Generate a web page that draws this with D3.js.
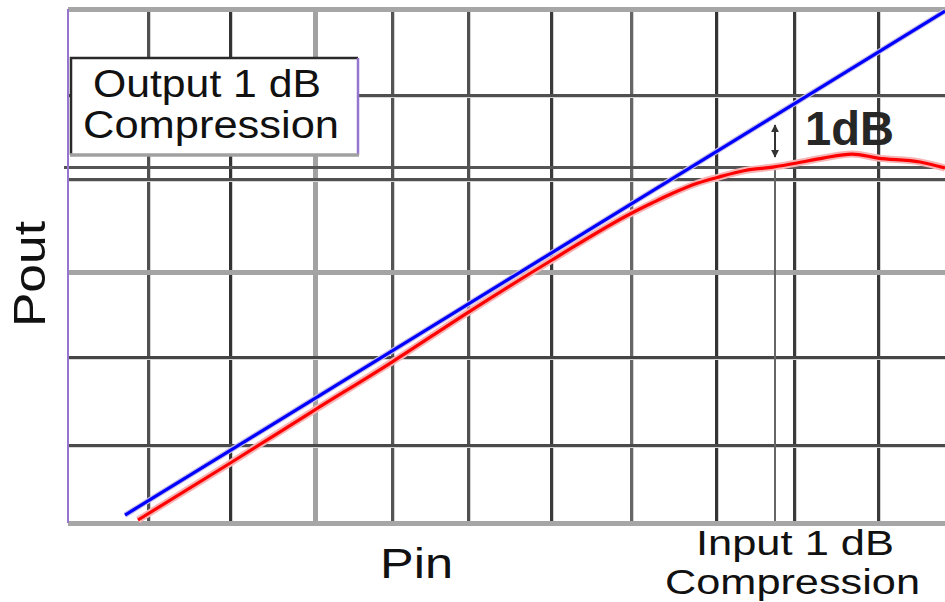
<!DOCTYPE html>
<html>
<head>
<meta charset="utf-8">
<script src="https://cdn.jsdelivr.net/npm/d3@7"></script>
<style>
  html, body { margin: 0; padding: 0; background: #ffffff; }
  svg { display: block; }
  text { font-family: "Liberation Sans", Arial, sans-serif; fill: #111; }
</style>
</head>
<body>
<svg id="chart" width="945" height="602"></svg>
<script>
// ---------------- DATA (in grid-division units) ----------------
const xDomain = [0, 10.814];            // Pin, grid divisions
const yDomain = [0, 6];                 // Pout, grid divisions
const xGridValues = [0.986, 1.998, 3.046, 3.995, 4.932, 5.956, 6.942, 7.990, 8.952, 9.988];
const yGridValues = [0.910, 1.938, 2.930, 4.015, 4.996];
const inputCompression = 8.718;         // Pin at 1 dB compression
const outputCompression = 4.155;        // Pout at 1 dB compression

// ideal linear response (blue)
const idealPin  = [0.703, 10.814];
const idealPout = [0.093, 5.976];

// measured response (red)
const measPin  = [0.863, 2.022, 3.021, 3.995, 4.920, 5.968, 6.954, 7.201, 7.448, 7.768, 8.002, 8.348, 8.693, 8.989, 9.310, 9.667, 9.988, 10.506, 10.814];
const measPout = [0.035, 0.712, 1.307, 1.879, 2.451, 3.070, 3.619, 3.735, 3.846, 3.969, 4.033, 4.115, 4.155, 4.202, 4.260, 4.307, 4.260, 4.214, 4.144];

// 1 dB arrow (from ideal down to measured)
const arrowTop = 4.646, arrowBottom = 4.272;

// labels
const xLabel = "Pin";
const yLabel = "Pout";
const outLabel = ["Output 1 dB", "Compression"];
const inLabel = ["Input 1 dB", "Compression"];
const dbLabel = "1dB";

// ---------------- DRAWING ----------------
const svg = d3.select("#chart");
const pL = 68, pR = 945, pT = 9, pB = 523;
const x = d3.scaleLinear().domain(xDomain).range([pL, pR]);
const y = d3.scaleLinear().domain(yDomain).range([pB, pT]);

// line styles per grid line (index-based)
const xStyle = [
  {c:"#505050", w:3}, {c:"#333", w:3}, {c:"#a2a2a2", w:5}, {c:"#555", w:3}, {c:"#505050", w:3},
  {c:"#3a3a3a", w:3}, {c:"#666", w:3}, {c:"#333", w:3}, {c:"#3a3a3a", w:3}, {c:"#3a3a3a", w:3}
];
const yStyle = [
  {c:"#4a4a4a", w:3}, {c:"#454545", w:3}, {c:"#a4a4a4", w:5}, {c:"#505050", w:3}, {c:"#505050", w:3}
];

// vertical grid via axis
const gx = svg.append("g").attr("transform", `translate(0,${pB})`)
  .call(d3.axisBottom(x).tickValues(xGridValues).tickSize(-(pB - pT)).tickFormat(""));
gx.select(".domain").remove();
gx.selectAll(".tick").attr("transform", d => `translate(${Math.round(x(d))},0)`);
gx.selectAll(".tick line").each(function(d, i) {
  const s = xStyle[i];
  if (s.w < 4) {
    d3.select(this.parentNode).insert("line", "line")
      .attr("x1", 1.5).attr("x2", 1.5)
      .attr("y2", -(pB - pT)).attr("stroke", "#d2d2d2").attr("stroke-width", 2)
      .attr("shape-rendering", "crispEdges");
  }
  d3.select(this).attr("stroke", s.c).attr("stroke-width", s.w).attr("shape-rendering", "crispEdges");
});

// horizontal grid via axis
const gy = svg.append("g").attr("transform", `translate(${pL},0)`)
  .call(d3.axisLeft(y).tickValues(yGridValues).tickSize(-(pR - pL)).tickFormat(""));
gy.select(".domain").remove();
gy.selectAll(".tick").attr("transform", d => `translate(0,${Math.round(y(d))})`);
gy.selectAll(".tick line").each(function(d, i) {
  const s = yStyle[i];
  if (s.w < 4) {
    d3.select(this.parentNode).insert("line", "line")
      .attr("y1", 2).attr("y2", 2)
      .attr("x2", pR - pL).attr("stroke", "#d6d6d6").attr("stroke-width", 2)
      .attr("shape-rendering", "crispEdges");
  }
  d3.select(this).attr("stroke", s.c).attr("stroke-width", s.w).attr("shape-rendering", "crispEdges");
});

// compression reference lines
svg.append("line")
  .attr("x1", pL - 4).attr("x2", pR)
  .attr("y1", Math.round(y(outputCompression))).attr("y2", Math.round(y(outputCompression)))
  .attr("stroke", "#555").attr("stroke-width", 3).attr("shape-rendering", "crispEdges");
svg.append("line")
  .attr("x1", Math.round(x(inputCompression))).attr("x2", Math.round(x(inputCompression)))
  .attr("y1", y(outputCompression)).attr("y2", pB)
  .attr("stroke", "#666").attr("stroke-width", 2).attr("shape-rendering", "crispEdges");

// borders
svg.append("line").attr("x1", pL).attr("x2", pR).attr("y1", y(yDomain[1])).attr("y2", y(yDomain[1]))
  .attr("stroke", "#a6a6a6").attr("stroke-width", 5).attr("shape-rendering", "crispEdges");
svg.append("line").attr("x1", pL).attr("x2", pR).attr("y1", y(yDomain[0])).attr("y2", y(yDomain[0]))
  .attr("stroke", "#a6a6a6").attr("stroke-width", 5).attr("shape-rendering", "crispEdges");
svg.append("line").attr("x1", pL).attr("x2", pL).attr("y1", pT).attr("y2", pB)
  .attr("stroke", "#9575cd").attr("stroke-width", 2).attr("shape-rendering", "crispEdges");

// curves
const ideal = idealPin.map((p, i) => [p, idealPout[i]]);
const meas = measPin.map((p, i) => [p, measPout[i]]);
const straight = d3.line().x(d => x(d[0])).y(d => y(d[1]));
const smooth = d3.line().x(d => x(d[0])).y(d => y(d[1])).curve(d3.curveMonotoneX);

svg.append("path").datum(meas).attr("d", smooth)
  .attr("fill", "none").attr("stroke", "#f6b4b4").attr("stroke-width", 7).attr("stroke-linejoin", "round");
svg.append("path").datum(ideal).attr("d", straight)
  .attr("fill", "none").attr("stroke", "#c9c0e8").attr("stroke-width", 5.5);
svg.append("path").datum(meas).attr("d", smooth)
  .attr("fill", "none").attr("stroke", "#ff0000").attr("stroke-width", 3.2).attr("stroke-linejoin", "round");
svg.append("path").datum(ideal).attr("d", straight)
  .attr("fill", "none").attr("stroke", "#0000ff").attr("stroke-width", 3.2);

// 1 dB arrow
const defs = svg.append("defs");
defs.append("marker").attr("id", "ah").attr("viewBox", "0 0 10 10")
  .attr("refX", 9).attr("refY", 5).attr("markerWidth", 4).attr("markerHeight", 4)
  .attr("orient", "auto-start-reverse").attr("markerUnits", "strokeWidth")
  .append("path").attr("d", "M0,0 L10,5 L0,10 z").attr("fill", "#333");
svg.append("line")
  .attr("x1", x(inputCompression)).attr("x2", x(inputCompression))
  .attr("y1", y(arrowTop)).attr("y2", y(arrowBottom))
  .attr("stroke", "#333").attr("stroke-width", 2)
  .attr("marker-start", "url(#ah)").attr("marker-end", "url(#ah)");

svg.append("text").attr("x", 805).attr("y", 145)
  .attr("font-size", 48).attr("font-weight", "bold")
  .attr("textLength", 89).attr("lengthAdjust", "spacingAndGlyphs")
  .style("fill", "#262626").text(dbLabel);

// output compression box
svg.append("rect").attr("x", 71).attr("y", 58).attr("width", 287).attr("height", 97)
  .attr("fill", "#ffffff").attr("stroke", "none");
svg.append("path").attr("d", "M71,155 L71,58 L358,58").attr("fill", "none").attr("stroke", "#2a2a2a").attr("stroke-width", 2.5);
svg.append("line").attr("x1", 358).attr("x2", 358).attr("y1", 58).attr("y2", 155).attr("stroke", "#9575cd").attr("stroke-width", 2.5);
svg.append("line").attr("x1", 70).attr("x2", 359).attr("y1", 155).attr("y2", 155).attr("stroke", "#a0a0a0").attr("stroke-width", 3.5);

// two-line labels as one text each
function twoLine(xs, ys, sizes, lengths, lines) {
  const t = svg.append("text");
  lines.forEach((s, i) => {
    t.append("tspan").attr("x", xs[i]).attr("y", ys[i]).attr("font-size", sizes[i])
      .attr("textLength", lengths[i]).attr("lengthAdjust", "spacingAndGlyphs").text(s);
  });
  return t;
}
twoLine([93, 83], [97, 138], [39, 38], [228, 256], outLabel);
twoLine([696, 665], [555, 594], [35, 35], [198, 255], inLabel);

// axis titles
svg.append("text").attr("x", 380).attr("y", 578).attr("font-size", 43)
  .attr("textLength", 73).attr("lengthAdjust", "spacingAndGlyphs").text(xLabel);
svg.append("text").attr("transform", "translate(45,274) rotate(-90)")
  .attr("text-anchor", "middle").attr("font-size", 45)
  .attr("textLength", 106).attr("lengthAdjust", "spacingAndGlyphs").text(yLabel);
</script>
</body>
</html>
